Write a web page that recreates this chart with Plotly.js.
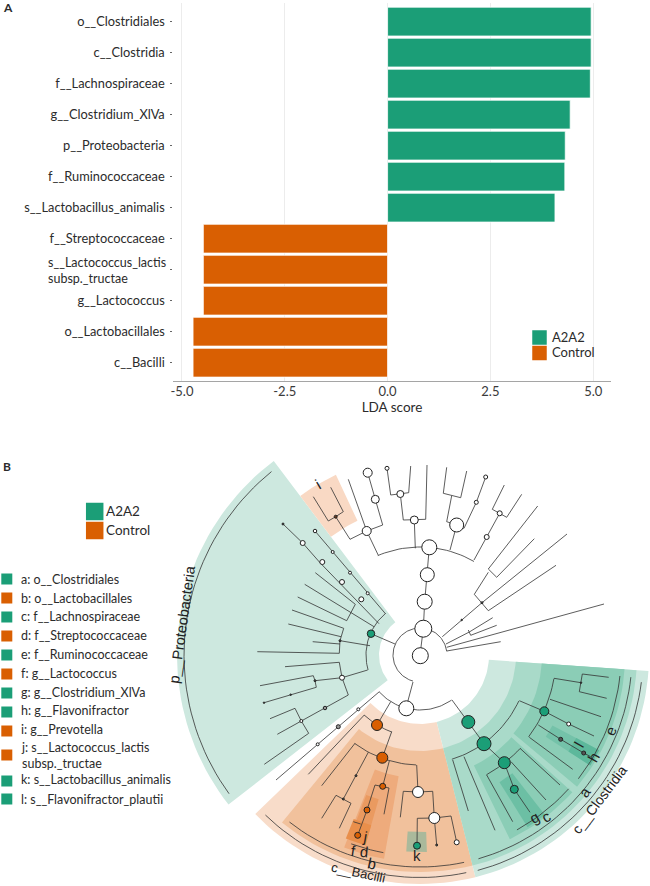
<!DOCTYPE html>
<html><head><meta charset="utf-8">
<script src="https://cdn.plot.ly/plotly-3.0.1.min.js"></script>
<style>html,body{margin:0;padding:0;background:#fff}#p{width:650px;height:886px}</style>
</head><body><div id="p"></div>
<script>
// ---- Panel A data
const taxa=["o__Clostridiales","c__Clostridia","f__Lachnospiraceae","g__Clostridium_XlVa","p__Proteobacteria","f__Ruminococcaceae","s__Lactobacillus_animalis","f__Streptococcaceae","s__Lactococcus_lactis subsp._tructae","g__Lactococcus","o__Lactobacillales","c__Bacilli"];
const a2a2Taxa=taxa.slice(0,7);
const a2a2Scores=[4.95,4.95,4.93,4.44,4.32,4.31,4.07];
const controlTaxa=taxa.slice(7);
const controlScores=[-4.48,-4.48,-4.48,-4.73,-4.73];
const xTicks=[-5,-2.5,0,2.5,5];
const xTickText=["-5.0","-2.5","0.0","2.5","5.0"];
const GREEN="#1b9e77",ORANGE="#d95f02";
// ---- Panel B key
const keyLabels=["a: o__Clostridiales","b: o__Lactobacillales","c: f__Lachnospiraceae","d: f__Streptococcaceae","e: f__Ruminococcaceae","f: g__Lactococcus","g: g__Clostridium_XlVa","h: g__Flavonifractor","i: g__Prevotella","j: s__Lactococcus_lactis<br>subsp._tructae","k: s__Lactobacillus_animalis","l: s__Flavonifractor_plautii"];
const keyColors=[GREEN,ORANGE,GREEN,ORANGE,GREEN,ORANGE,GREEN,GREEN,ORANGE,ORANGE,GREEN,GREEN];
const keySwatchY=[579,598,617,636,655,674,693,712,731,755,781,799];
const keyTextY=[579.5,598,616,635.5,654.5,673,692,710.5,729.5,755,779,799];
// ---- Panel B cladogram: centre and shaded clades [from°, to°, inner r, outer r, colour]
const cx=420,cy=655;
const clades=[
 [127,218,41,243,"#cde8df"],
 [115,127,148,199,"#f9d9c4"],
 [224,284,69,229,"#f8dcc9"],
 [284,356,69,229,"#cde8df"],
 [230.5,284,96,217,"#f1c19c"],
 [284,356,96,217,"#a9dac9"],
 [248.5,260,123,207,"#eeab7c"],
 [249,254,150,198,"#ea9a60"],
 [248,254,177,198,"#e98f4b"],
 [266,272,177,197,"#aab99b"],
 [296,318,123,205,"#8bcdb6"],
 [320,356,122,205,"#8bcdb6"],
 [302,308,150,203,"#6cbfa4"],
 [327,332,150,203,"#74c2a9"],
 [327,332,177,203,"#5db89b"]
];
// circular branches and reference arcs [radius, from°, to°]
const arcs=[[27,8,255],[108,60,113],[55,222,305],[54,130,196],[82,227,250],[110,233.5,268],[109,287,335],[136,323,350],[137,299,317],
 [236,129,216],[222.5,226,282],[212,232,282],[201,250,259.5],[223,285,353],[212,286,354],[201,322,354],[200,299,318]];
// straight branches, given in image pixels
const branches=[
 [[420,655],[423.3,628.7],[424.7,601.7],[427.3,574.7],[429.3,547.3]],
 [[442.3,636.7],[482,602.7],[567,534]],[[474.3,594.3],[488.3,572.3]],[[488.3,569],[496.7,577.3]],[[488.3,569],[537.7,506]],[[496.7,577.3],[534.3,538.7]],
 [[474.3,594.3],[488.3,610.7]],[[488.3,610.7],[556,565.3]],
 [[446,644],[469.3,632],[492.7,617.7]],[[468.3,630],[470.7,635.3]],[[470.7,635.3],[496.7,625.3]],
 [[446.7,647.3],[604,604]],[[446.7,651],[500.7,641.7]],
 // top clades
 [[378.3,555.3],[366.7,531],[348.3,479.3]],[[366.7,531],[382.7,525],[375.3,499.3],[367.7,472.7]],
 [[366.7,531],[350,539.3],[335.7,516.7]],[[335.7,516.7],[343.3,511.7],[330.7,487.3]],[[335.7,516.7],[328.3,521],[313.3,496.7]],
 [[415.3,548.3],[414.3,520]],[[403.3,520],[414.3,520],[425.7,519.3],[427,465]],[[403.3,520],[400.3,494]],[[390.7,495],[400.3,494],[408.7,492.7]],[[390.7,495],[387,468.3]],[[408.7,492.7],[410.7,466]],
 [[450,550],[456.7,525]],[[446.7,521.7],[456.7,525],[464,528.3]],[[446.7,521.7],[451.7,495.7]],[[443.3,493.3],[451.7,495.7],[460.7,497.7]],[[443.3,493.3],[446.7,467.3]],[[460.7,497.7],[466.7,471]],
 [[464,528.3],[476.3,502.3],[485.7,477]],
 [[474,560],[486.7,537],[499.7,513.3]],[[492.3,509.3],[499.7,513.3],[506.7,517.3]],[[492.3,509.3],[504.3,485]],[[506.7,517.3],[521.7,494.3]],
 // Proteobacteria
 [[395,644],[371,633.7]],
 [[385.7,614],[315,531]],[[283,524],[302.7,543],[320,562.7],[379,623.7]],
 [[374,626.7],[304.7,584.3]],[[315.3,572.7],[355.3,604.3],[346.7,620.7],[297.7,597]],
 [[370,645.7],[340,640.7]],[[343.7,628.3],[340,640.7],[339.3,653.3]],[[343.7,628.3],[292,610]],[[341,636.7],[288.3,624]],[[340,644],[312.7,641.7]],[[339.3,653.3],[257.3,651.7]],
 [[367.7,670],[342,677.7]],[[339.3,662.3],[342,677.7],[348.3,695]],[[339.3,662.3],[285,666.7]],
 [[342,677.7],[315,680.7]],[[313.3,675.7],[315,680.7],[316.3,687.3]],[[313.3,675.7],[260,685.7]],[[316.3,687.3],[264,702.7]],
 [[348.3,695],[325,708],[301.3,721]],[[295,708.3],[301.3,721],[308.7,733.3]],[[295,708.3],[270,718.7]],[[301.3,721],[277.3,734.3]],[[308.7,733.3],[264.3,764.3]],
 // Bacilli
 [[413,682],[406,708]],[[379.3,691.7],[276,780]],[[390.7,701.7],[377,725]],
 [[364.3,715],[308.3,774.3]],[[391.7,731.7],[382.3,757.7]],
 [[355,743.3],[321.7,785.7]],[[368.3,752.3],[343.3,799]],[[336,795.3],[343.3,799],[351,803.3]],[[336,795.3],[321.7,818.3]],[[351,803.3],[339.3,828.3]],
 [[389.3,761],[382.7,786.3]],[[375,785],[382.7,786.3],[389,788]],[[389,788],[384,814.3]],[[375,785],[367,810],[357.7,835.3]],[[353.3,821.7],[360.7,824]],
 [[416.7,765],[418,792]],[[403.3,791.3],[418,792],[432.7,791.3]],[[403.3,791.3],[400.3,817.3]],[[432.7,791.3],[434.3,818]],
 [[417.3,818.3],[434.3,818],[451,816]],[[417.3,818.3],[417,845.7]],[[434.3,818],[436.7,845]],[[451,816],[456.7,842.3]],
 // Clostridia
 [[452,700],[468.3,722],[484,743.7],[504.3,762.7],[514.3,789.3],[530,812.3]],
 [[452.7,760],[468.3,811]],[[464,756.7],[495,830.3]],
 [[519.3,700.7],[544.3,711.3]],[[554,678.3],[581,682.7]],[[582.3,674],[581,682.7],[579.3,691.7]],[[582.3,674],[608.7,677.3]],[[579.3,691.7],[606.7,698.3]],
 [[550,699.3],[601,716.7]],[[544.3,711.3],[568.7,724],[594,736]],[[538.3,725],[560.7,739.3],[583.7,753],[590.7,756.7]],[[529.3,737.3],[572.7,769.3]],
 [[486.7,775],[512.7,821.7]],[[511,761.7],[546,800]],[[520,748.3],[560,785]]
];
// nodes: x, y, diameter, fill
const W="#ffffff",K="#555555";
const nodes=[
 [420.3,655.7,16,W],[423.3,628.7,17,W],[424.7,601.7,15,W],[427.3,574.7,14,W],[429.3,547.3,15,W],
 [366.7,531,9,W],[375.3,499.3,8,W],[367.7,472.7,9,W],[335.7,516.7,3,"#6b3a20"],
 [414.3,520,8,W],[400.3,494,7,W],[387,468.3,4,W],
 [456.7,525,14,W],[476.3,502.3,4,W],[485.7,477,4,W],[486.7,537,5,W],[499.7,513.3,5,W],
 [461.7,620,1.5,K],[482,602.7,2,K],
 [371,633.7,7.5,GREEN],[315,531,3.5,W],[332.7,552,3,W],[350,572.7,3,W],[367.7,593.3,3,W],
 [283,524,2,K],[302.7,543,5,W],[322.3,562,5,W],[342,582,5,W],[361.3,599.3,5,W],
 [340,640.7,2,K],[342,677.7,5,W],[315,680.7,2,K],[290.7,694.7,1.5,K],[325,708,3.5,"#999999"],[301.3,721,3,W],[264,702.7,1.5,K],
 [358.3,709.3,3,W],[338.3,726.7,4,"#999999"],[317.7,744.3,3,W],
 [406.3,708.3,15,W],[377,725,11,ORANGE],[382.3,757.7,11,ORANGE],
 [356,775.7,2,K],[343.3,799,2,K],[382.7,786.3,6,ORANGE],[367,810,6,ORANGE],[357.7,835.3,6,ORANGE],
 [418,792,11,W],[434.3,818,11,W],[417,845.7,7,GREEN],[436.7,845,2,K],[456.7,842.3,5,W],
 [468.3,722,13,GREEN],[484,743.7,14,GREEN],[504.3,762.7,12,GREEN],[514.3,789.3,8,GREEN],
 [544.3,711.3,9,GREEN],[568.7,724,4,W],[560.7,739.3,4,K],[583.7,753,4,K],[581,682.7,1.5,K]
];
// rotated clade letters: text, x, y, angle, size
const cladeLabels=[
 ["p__Proteobacteria",182,625,-82,14.5],["c__Bacilli",358,872,12,13],["c__Clostridia",599,800,-53,14],
 ["a",584,792,-55,15],["b",372,863,12,15],["c",546,816,-30,15],["d",364,851,5,15],["e",610,731,-70,15],["f",353,850,8,15],
 ["g",534,817,-30,15],["h",593,757,-60,15],["i",317,484,-30,15],["j",365,836,10,15],["k",417,855,0,15],["l",578,745,-60,15]
];
// ---- build
const traces=[];
traces.push({type:"bar",orientation:"h",y:a2a2Taxa,x:a2a2Scores,xaxis:"x",yaxis:"y",width:0.93,marker:{color:GREEN,line:{color:"#fff",width:0.8}},showlegend:false,hoverinfo:"skip"});
traces.push({type:"bar",orientation:"h",y:controlTaxa,x:controlScores,xaxis:"x",yaxis:"y",width:0.93,marker:{color:ORANGE,line:{color:"#fff",width:0.8}},showlegend:false,hoverinfo:"skip"});
const pol=(r,a)=>[cx+r*Math.cos(a*Math.PI/180),cy-r*Math.sin(a*Math.PI/180)];
function arcPts(r,a0,a1){const n=Math.max(2,Math.ceil(Math.abs(a1-a0)/2)),o=[];for(let i=0;i<=n;i++)o.push(pol(r,a0+(a1-a0)*i/n));return o;}
const ov={xaxis:"x2",yaxis:"y2",showlegend:false,hoverinfo:"skip"};
clades.forEach(c=>{const p=arcPts(c[3],c[0],c[1]).concat(arcPts(c[2],c[1],c[0]));p.push(p[0]);
 traces.push({...ov,type:"scatter",mode:"lines",x:p.map(q=>q[0]),y:p.map(q=>q[1]),fill:"toself",fillcolor:c[4],line:{width:0}});});
const lx=[],ly=[];
arcs.forEach(a=>{arcPts(a[0],a[1],a[2]).forEach(q=>{lx.push(q[0]);ly.push(q[1]);});lx.push(null);ly.push(null);});
branches.forEach(b=>{b.forEach(q=>{lx.push(q[0]);ly.push(q[1]);});lx.push(null);ly.push(null);});
traces.push({...ov,type:"scatter",mode:"lines",x:lx,y:ly,line:{color:"#333333",width:0.8}});
traces.push({...ov,type:"scatter",mode:"markers",x:nodes.map(n=>n[0]),y:nodes.map(n=>n[1]),
 marker:{opacity:1,size:nodes.map(n=>n[2]),color:nodes.map(n=>n[3]),line:{color:"#222222",width:1}}});
// legends and key swatches
traces.push({...ov,type:"scatter",mode:"markers",x:[539.5,539.5,94.7,94.7],y:[337.5,353,511.5,530.5],
 marker:{opacity:1,symbol:"square",size:[14.5,14.5,17.5,17.5],color:[GREEN,ORANGE,GREEN,ORANGE],line:{width:0}}});
traces.push({...ov,type:"scatter",mode:"markers",x:keySwatchY.map(()=>6.8),y:keySwatchY,
 marker:{opacity:1,symbol:"square",size:11,color:keyColors,line:{width:0}}});
const UI="Lato",TXT="#2b2b2b";
const ann=[];
const t=(text,x,y,size,opt)=>ann.push(Object.assign({text,x,y,xref:"x2",yref:"y2",xanchor:"left",yanchor:"middle",align:"left",showarrow:false,font:{family:UI,size,color:TXT}},opt||{}));
t("<b>A</b>",1,7,12);t("<b>B</b>",1,466,12);
t("A2A2",549.5,337,13);t("Control",549.5,352.3,13);
t("A2A2",104,511,13.5);t("Control",104,530,13.5);
t("s__Lactococcus_lactis<br>subsp._tructae",46,270,12.5);
keyLabels.forEach((l,i)=>t(l,19,keyTextY[i],12.5));
cladeLabels.forEach(c=>t(c[0],c[1],c[2],c[4],{xanchor:"center",textangle:c[3],font:{family:"Liberation Sans",size:c[4],color:"#222"}}));
const tickText=taxa.map(n=>n.includes(" ")?" ":n);
const layout={width:650,height:886,margin:{l:0,r:0,t:0,b:0},paper_bgcolor:"#fff",plot_bgcolor:"rgba(0,0,0,0)",barmode:"overlay",showlegend:false,
 font:{family:UI,size:13,color:TXT},
 xaxis:{domain:[173.3/650,610.7/650],anchor:"y",range:[-5.21,5.425],tickvals:xTicks,ticktext:xTickText,showgrid:true,gridcolor:"#ececec",gridwidth:1,zeroline:false,showline:true,linecolor:"#a5a5a5",linewidth:1,ticks:"",ticklabelstandoff:-2,tickfont:{family:UI,size:13,color:"#3a3a3a"},title:{text:"LDA score",standoff:0,font:{family:UI,size:13.5,color:TXT}}},
 yaxis:{domain:[1-381/886,1-3.3/886],anchor:"x",type:"category",categoryorder:"array",categoryarray:taxa,range:[11.59,-0.59],tickmode:"array",tickvals:taxa,ticktext:tickText,showgrid:false,zeroline:false,showline:false,ticks:"outside",ticklen:2,tickcolor:"#666",tickwidth:1,ticklabelstandoff:3,tickfont:{family:UI,size:12.8,color:TXT}},
 xaxis2:{domain:[0,1],anchor:"y2",range:[0,650],visible:false,fixedrange:true},
 yaxis2:{domain:[0,1],anchor:"x2",range:[886,0],visible:false,fixedrange:true},
 annotations:ann};
Plotly.newPlot("p",traces,layout,{displayModeBar:false,staticPlot:true});
</script></body></html>
